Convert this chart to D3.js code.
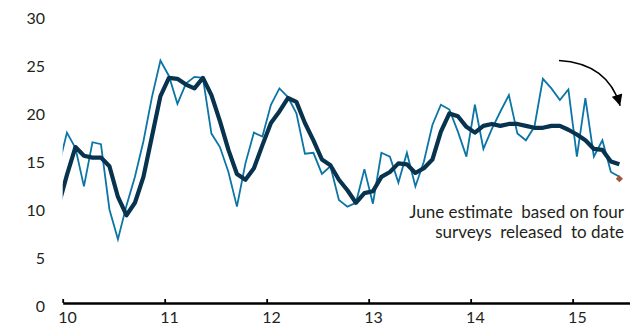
<!DOCTYPE html>
<html>
<head>
<meta charset="utf-8">
<script src="https://cdn.jsdelivr.net/npm/d3@7/dist/d3.min.js"></script>
<style>
  html, body { margin: 0; padding: 0; background: #fff; }
  #graf { width: 630px; height: 332px; }
  text { font-family: Lato, "Open Sans", sans-serif; fill: #231f20; }
</style>
</head>
<body>
<div id="graf"></div>
<script>
// Datos mensuales: dic-2009 .. jun-2015 (el primer punto queda detras del borde izquierdo)
const primerMes = { anio: 2009, mes: 11 }
const mensual = [
  14.5,
  18.1, 16.5, 12.5, 17.1, 16.9, 10.1, 7.0, 10.5, 13.5, 17.2, 21.8, 25.6,
  24.0, 21.1, 23.2, 23.9, 23.8, 18.0, 16.6, 14.0, 10.4, 14.9, 18.1, 17.7,
  21.0, 22.7, 21.8, 20.1, 15.9, 16.0, 13.8, 14.6, 11.1, 10.4, 10.8, 14.3,
  10.7, 16.0, 15.6, 12.9, 16.0, 12.5, 15.1, 18.9, 21.0, 20.5, 18.2, 15.6,
  21.0, 16.4, 18.5, 20.3, 22.0, 18.0, 17.3, 18.7, 23.7, 22.7, 21.5, 22.6,
  15.6, 21.7, 15.6, 17.3, 14.0, 13.5
]
// promedio movil de tres meses
const promedio = [
  10.5,
  13.7, 16.6, 15.7, 15.5, 15.5, 14.6, 11.4, 9.5, 10.8, 13.5, 17.7, 21.9,
  23.8, 23.7, 23.1, 22.7, 23.8, 22.0, 19.3, 16.3, 13.8, 13.2, 14.4, 16.8,
  19.1, 20.3, 21.7, 21.3, 19.1, 17.3, 15.3, 14.7, 13.2, 12.1, 10.8, 11.8,
  12.0, 13.5, 14.0, 14.9, 14.8, 13.9, 14.4, 15.3, 18.2, 20.1, 19.8, 18.7,
  18.1, 18.8, 19.0, 18.8, 19.0, 19.0, 18.8, 18.6, 18.6, 18.8, 18.8, 18.4,
  17.9, 17.3, 16.4, 16.3, 15.1, 14.8
]
const estimadoJunio = 13.3
const ticksY = [0, 5, 10, 15, 20, 25, 30]
const anios = [2010, 2011, 2012, 2013, 2014, 2015]
const etiquetasX = ['10', '11', '12', '13', '14', '15']
const nota = ['June estimate  based on four', 'surveys  released  to date']
// flecha: [anio decimal, valor]
const flecha = { desde: [2014.866, 25.6], control: [2015.343, 25.3], hasta: [2015.466, 20.9] }

const ancho_total = 630
const alto_total = 332

const svg = d3.select('#graf').append('svg')
  .attr('width', ancho_total)
  .attr('height', alto_total)

// Escaladores
const x = d3.scaleLinear().domain([2010, 2015.5625]).range([62.7, 630])
const y = d3.scaleLinear().domain([0, 30]).range([306.5, 18.3])

const fecha = i => primerMes.anio + (primerMes.mes + i + 0.5) / 12

svg.append('defs').append('clipPath')
  .attr('id', 'recorte')
  .append('rect')
  .attr('x', x(2010)).attr('y', 0)
  .attr('width', ancho_total - x(2010)).attr('height', alto_total)

svg.select('defs').append('marker')
  .attr('id', 'punta')
  .attr('viewBox', '0 0 10 10')
  .attr('refX', 10).attr('refY', 5)
  .attr('markerWidth', 12).attr('markerHeight', 11)
  .attr('markerUnits', 'userSpaceOnUse')
  .attr('orient', 'auto')
  .append('path')
  .attr('d', 'M0,0 L10,5 L0,10 Z')
  .attr('fill', '#000')

// Eje Y (solo etiquetas)
svg.append('g')
  .selectAll('text')
  .data(ticksY)
  .join('text')
  .attr('x', 45)
  .attr('y', d => y(d))
  .attr('dy', '0.35em')
  .attr('text-anchor', 'end')
  .style('font-size', '16px')
  .text(d => d)

// Eje X
const medioMes = x(2010 + 1 / 24) - x(2010)
const xAxis = svg.append('g')
  .attr('transform', 'translate(0, 303)')
  .call(d3.axisBottom(x)
    .tickValues(anios)
    .tickSizeInner(-4)
    .tickSizeOuter(0)
    .tickPadding(9)
    .tickFormat((d, i) => etiquetasX[i]))
xAxis.select('.domain').attr('stroke', '#000').attr('stroke-width', 2.6)
xAxis.selectAll('.tick line').attr('stroke', '#000').attr('stroke-width', 1.8)
xAxis.selectAll('.tick text')
  .attr('dx', medioMes)
  .style('font-size', '16px')
  .style('font-family', 'Lato, "Open Sans", sans-serif')
  .attr('fill', '#231f20')

// Lineas
const lineaGen = d3.line()
  .x((d, i) => x(fecha(i)))
  .y(d => y(d))

const g = svg.append('g').attr('clip-path', 'url(#recorte)')

g.append('path')
  .datum(mensual)
  .attr('fill', 'none')
  .attr('stroke', '#0b75a6')
  .attr('stroke-width', 1.8)
  .attr('stroke-linejoin', 'miter')
  .attr('d', lineaGen)

g.append('path')
  .datum(promedio)
  .attr('fill', 'none')
  .attr('stroke', '#07334f')
  .attr('stroke-width', 4.2)
  .attr('stroke-linejoin', 'round')
  .attr('d', lineaGen)

// Estimado de junio
g.append('path')
  .attr('d', d3.symbol(d3.symbolSquare, 26)())
  .attr('transform', `translate(${x(fecha(mensual.length - 1))}, ${y(estimadoJunio)}) rotate(45)`)
  .attr('fill', '#a4583a')

// Nota
svg.append('g')
  .selectAll('text')
  .data(nota)
  .join('text')
  .attr('x', 624)
  .attr('y', (d, i) => 218 + i * 19.5)
  .attr('text-anchor', 'end')
  .style('font-size', '17px')
  .style('white-space', 'pre')
  .text(d => d)

// Flecha curva
const p = d3.path()
p.moveTo(x(flecha.desde[0]), y(flecha.desde[1]))
p.quadraticCurveTo(x(flecha.control[0]), y(flecha.control[1]), x(flecha.hasta[0]), y(flecha.hasta[1]))
svg.append('path')
  .attr('d', p.toString())
  .attr('fill', 'none')
  .attr('stroke', '#000')
  .attr('stroke-width', 1.5)
  .attr('marker-end', 'url(#punta)')
</script>
</body>
</html>
